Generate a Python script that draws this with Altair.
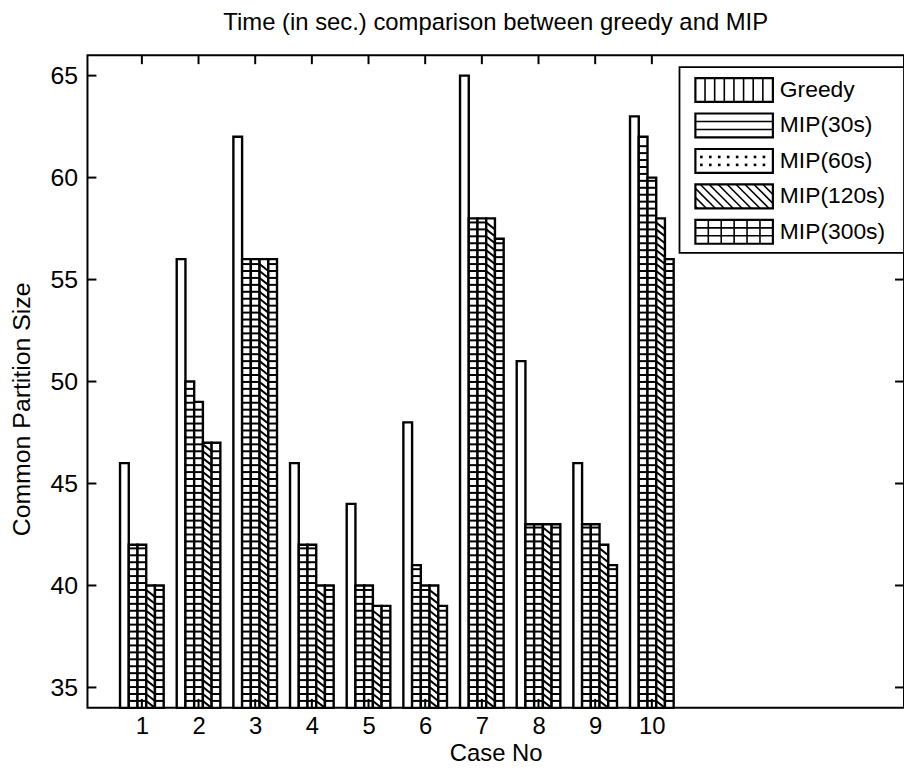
import altair as alt
import pandas as pd

# ---------------- data ----------------
cases = [1, 2, 3, 4, 5, 6, 7, 8, 9, 10]
series = ["Greedy", "MIP(30s)", "MIP(60s)", "MIP(120s)", "MIP(300s)"]
greedy = [46, 56, 62, 46, 44, 48, 65, 51, 46, 63]
mip30 = [42, 50, 56, 42, 40, 41, 58, 43, 43, 62]
mip60 = [42, 49, 56, 42, 40, 40, 58, 43, 43, 60]
mip120 = [40, 47, 56, 40, 39, 40, 58, 43, 42, 58]
mip300 = [40, 47, 56, 40, 39, 39, 57, 43, 41, 56]
y_ticks = [35, 40, 45, 50, 55, 60, 65]

rows = []
for k, (name, vals) in enumerate(zip(series, [greedy, mip30, mip60, mip120, mip300])):
    for c, v in zip(cases, vals):
        rows.append({"case": c, "series": name, "k": k, "value": v})
df = pd.DataFrame(rows)
leg_df = pd.DataFrame({"name": series, "i": list(range(len(series)))})

# ---------------- layout / style ----------------
W, H = 822, 657
Y0, Y1 = 34, 66
X0, X1 = 0.04, 14.45
BW = 0.154          # width of one bar (data units)
STEP = 0.34         # hatch spacing (data units)
FONT = "Liberation Sans"

xsc = alt.Scale(domain=[X0, X1], nice=False, zero=False)
ysc = alt.Scale(domain=[Y0, Y1], nice=False, zero=False)

base = alt.Chart(df).transform_calculate(
    xs=f"datum.case - {2.5 * BW} + datum.k * {BW}"
).transform_calculate(xe=f"datum.xs + {BW}")

x_axis = alt.Axis(values=cases, format="d", ticks=False, domain=False, grid=False,
                  labelFontSize=24, labelPadding=7, labelColor="black",
                  title="Case No", titleFontSize=24, titleFontWeight="normal",
                  titleColor="black", titleBaseline="middle", titleY=46)
y_axis = alt.Axis(values=y_ticks, format="d", ticks=False, domain=False, grid=False,
                  labelFontSize=25, labelPadding=10, labelColor="black",
                  title="Common Partition Size", titleFontSize=25,
                  titleFontWeight="normal", titleColor="black",
                  titleBaseline="middle", titleAlign="center", titleX=-66, titleY=356)

bars = base.mark_bar(fill="white", stroke="black", strokeWidth=2.4).encode(
    x=alt.X("xs:Q", scale=xsc, axis=x_axis),
    x2="xe:Q",
    y=alt.Y("value:Q", scale=ysc, axis=y_axis),
    y2=alt.datum(Y0),
)

rungs = base.transform_filter(
    alt.FieldOneOfPredicate(field="series", oneOf=[series[1], series[2], series[4]])
).transform_calculate(
    lv=f"sequence({Y0} + {STEP}, datum.value - 0.15, {STEP})"
).transform_flatten(["lv"]).mark_rule(color="black", strokeWidth=2).encode(
    x=alt.X("xs:Q", scale=xsc, axis=None),
    x2="xe:Q",
    y=alt.Y("lv:Q", scale=ysc, axis=None),
)

diag = base.transform_filter(
    alt.FieldEqualPredicate(field="series", equal=series[3])
).transform_calculate(
    lv=f"sequence({Y0}, datum.value - {STEP}, {STEP})"
).transform_flatten(["lv"]).transform_calculate(
    lt=f"datum.lv + {STEP}"
).mark_rule(color="black", strokeWidth=2).encode(
    x=alt.X("xs:Q", scale=xsc, axis=None),
    x2="xe:Q",
    y=alt.Y("lt:Q", scale=ysc, axis=None),
    y2="lv:Q",
)

# inward ticks on all four sides (MATLAB box style)
yt = pd.DataFrame({"t": y_ticks})
xt = pd.DataFrame({"c": cases})
tick_l = alt.Chart(yt).mark_rule(color="black", strokeWidth=2).encode(
    x=alt.value(0), x2=alt.value(9), y=alt.Y("t:Q", scale=ysc, axis=None))
tick_r = alt.Chart(yt).mark_rule(color="black", strokeWidth=2).encode(
    x=alt.value(W - 9), x2=alt.value(W), y=alt.Y("t:Q", scale=ysc, axis=None))
tick_b = alt.Chart(xt).mark_rule(color="black", strokeWidth=2).encode(
    y=alt.value(H - 9), y2=alt.value(H), x=alt.X("c:Q", scale=xsc, axis=None))
tick_t = alt.Chart(xt).mark_rule(color="black", strokeWidth=2).encode(
    y=alt.value(0), y2=alt.value(9), x=alt.X("c:Q", scale=xsc, axis=None))

# ---------------- legend (pixel space) ----------------
LX0, LX1, LY0, LY1 = 596, W, 12, 199
SX0, SX1 = 612, 690
leg = alt.Chart(leg_df).transform_calculate(
    cy="35 + datum.i * 35.7"
).transform_calculate(ya="datum.cy - 12", yb="datum.cy + 12")

leg_box = alt.Chart(pd.DataFrame({"a": [0]})).mark_rect(
    fill="white", stroke="black", strokeWidth=1.8).encode(
    x=alt.value(LX0), x2=alt.value(LX1), y=alt.value(LY0), y2=alt.value(LY1))

swatch = leg.mark_rect(fill="white", stroke="black", strokeWidth=2.2).encode(
    x=alt.value(SX0), x2=alt.value(SX1),
    y=alt.Y("ya:Q", scale=None, axis=None), y2="yb:Q")

leg_text = leg.mark_text(align="left", baseline="middle", fontSize=23, color="black").encode(
    x=alt.value(697), y=alt.Y("cy:Q", scale=None, axis=None), text="name:N")

vlines = leg.transform_filter("datum.i == 0 || datum.i == 4").transform_calculate(
    lx="datum.i == 0 ? sequence(621.7, 689, 9.7) : sequence(625, 689, 13)"
).transform_flatten(["lx"]).mark_rule(color="black", strokeWidth=1.6).encode(
    x=alt.X("lx:Q", scale=None, axis=None),
    y=alt.Y("ya:Q", scale=None, axis=None), y2="yb:Q")

hlines = leg.transform_filter("datum.i == 1 || datum.i == 4").transform_calculate(
    ly="[datum.cy - 4, datum.cy + 4]"
).transform_flatten(["ly"]).mark_rule(color="black", strokeWidth=1.6).encode(
    x=alt.value(SX0), x2=alt.value(SX1),
    y=alt.Y("ly:Q", scale=None, axis=None))

dots = leg.transform_filter("datum.i == 2").transform_calculate(
    lx="sequence(618, 688, 9)"
).transform_flatten(["lx"]).transform_calculate(
    ly="[datum.cy - 4, datum.cy + 4]"
).transform_flatten(["ly"]).mark_square(color="black", size=7, opacity=1).encode(
    x=alt.X("lx:Q", scale=None, axis=None),
    y=alt.Y("ly:Q", scale=None, axis=None))

diag_leg = leg.transform_filter("datum.i == 3").transform_calculate(
    a="sequence(590, 690, 9)"
).transform_flatten(["a"]).transform_calculate(
    sx=f"max(datum.a, {SX0})", ex=f"min(datum.a + 24, {SX1})"
).transform_filter("datum.ex > datum.sx").transform_calculate(
    sy="datum.ya + (datum.sx - datum.a)", ey="datum.ya + (datum.ex - datum.a)"
).mark_rule(color="black", strokeWidth=1.6).encode(
    x=alt.X("sx:Q", scale=None, axis=None), x2="ex:Q",
    y=alt.Y("sy:Q", scale=None, axis=None), y2="ey:Q")

chart = alt.layer(
    bars, rungs, diag, tick_l, tick_r, tick_b, tick_t,
    leg_box, swatch, vlines, hlines, dots, diag_leg, leg_text,
).resolve_scale(
    x="independent", y="independent"
).properties(
    width=W, height=H,
    title=alt.TitleParams("Time (in sec.) comparison between greedy and MIP",
                          fontSize=24, fontWeight="normal", color="black",
                          anchor="middle", frame="group", baseline="middle", offset=7),
    autosize=alt.AutoSizeParams(type="none"),
    padding={"left": 80, "top": 45, "right": 0, "bottom": 55},
).configure(font=FONT).configure_view(stroke="black", strokeWidth=2)

chart.save("out.html", embed_options={"renderer": "svg", "actions": False})
